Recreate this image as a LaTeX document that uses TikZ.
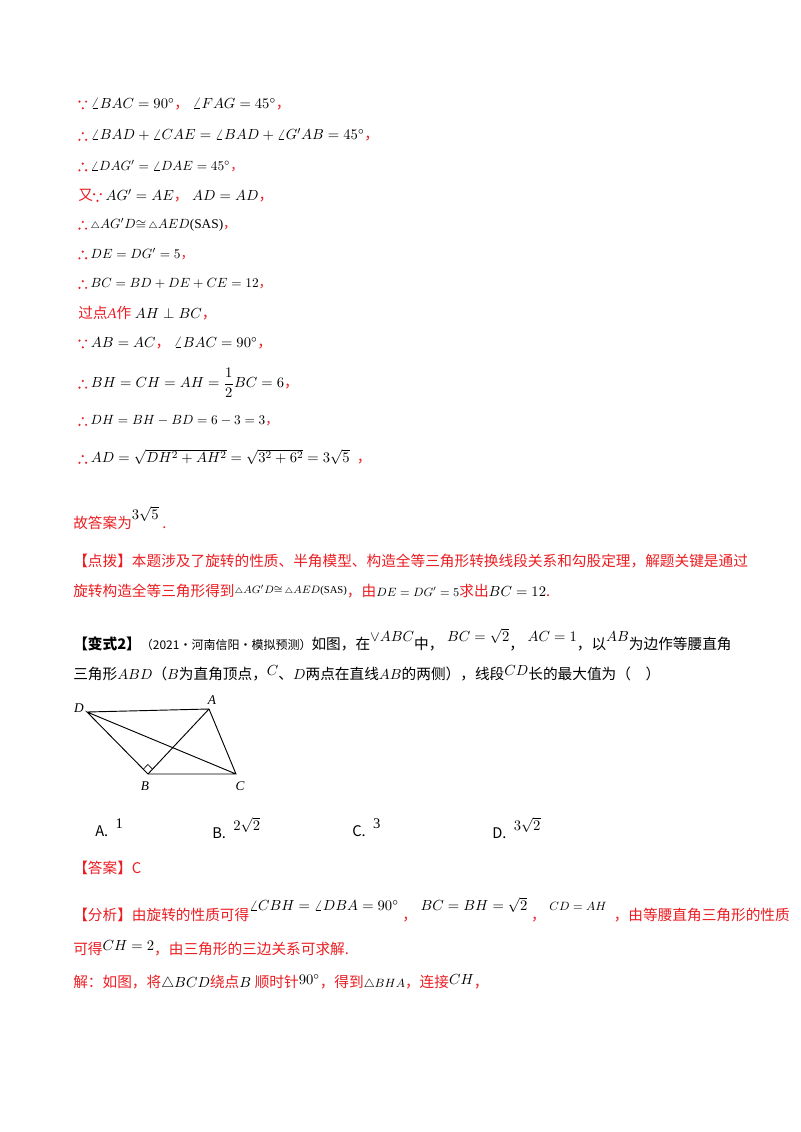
\documentclass[tikz,border=0pt]{standalone}
\usepackage{fontspec}
\usepackage{amsmath}
\usetikzlibrary{calc}
\setmainfont{Liberation Serif}
\newfontfamily\cjk{Noto Sans CJK SC}
\definecolor{rd}{RGB}{235,30,35}
\newcommand\R[1]{\textcolor{rd}{\cjk #1}}
\newcommand\K[1]{{\cjk #1}}
\newcommand\bec{\tikz[baseline=0pt,x=1pt,y=1pt]{\fill[rd] (0,5) circle(0.9) (5,5) circle(0.9) (2.5,0) circle(0.9);}}
\newcommand\tf{\tikz[baseline=0pt,x=1pt,y=1pt]{\fill[rd] (0,0) circle(0.9) (5,0) circle(0.9) (2.5,5) circle(0.9);}}
\newcommand\vtri{{\scriptstyle\triangle}}
\begin{document}
\begin{tikzpicture}[x=0.75pt,y=-0.75pt,
  t/.style={anchor=west,inner sep=0pt,font=\fontsize{11}{13}\selectfont},
  s/.style={anchor=west,inner sep=0pt,font=\fontsize{10}{12}\selectfont},
  lab/.style={inner sep=1pt,font=\fontsize{10}{12}\selectfont\itshape},
  seg/.style={line width=0.7pt}]
\useasboundingbox (0,0) rectangle (800,1132);
\fill[white] (0,0) rectangle (800,1132);
\node[t] (l1) at (78,104) {\bec\ $\angle BAC=90^\circ$\R{，}\ $\angle FAG=45^\circ$\R{，}};
\node[t] (l2) at (78,135) {\tf\ $\angle BAD+\angle CAE=\angle BAD+\angle G'AB=45^\circ$\R{，}};
\node[s] (l3) at (78,166) {\tf\ $\angle DAG'=\angle DAE=45^\circ$\R{，}};
\node[t] (l4) at (78,196) {\R{又}\bec\ $AG'=AE$\R{，}\ $AD=AD$\R{，}};
\node[s] (l5) at (78,225) {\tf\ $\vtri AG'D{\cong}\,\vtri AED$(SAS)\R{，}};
\node[s] (l6) at (78,254) {\tf\ $DE=DG'=5$\R{，}};
\node[s] (l7) at (78,284) {\tf\ $BC=BD+DE+CE=12$\R{，}};
\node[t] (l8) at (78,313) {\R{过点}\textcolor{rd}{\itshape A}\R{作} $AH\perp BC$\R{，}};
\node[t] (l9) at (78,343) {\bec\ $AB=AC$\R{，}\ $\angle BAC=90^\circ$\R{，}};
\node[t] (l10) at (78,383) {\tf\ $BH=CH=AH=\dfrac12BC=6$\R{，}};
\node[s] (l11) at (78,421) {\tf\ $DH=BH-BD=6-3=3$\R{，}};
\node[t] (l12) at (78,457) {\tf\ $AD=\sqrt{DH^2+AH^2}=\sqrt{3^2+6^2}=3\sqrt5$\ \ \R{，}};
\node[t] (l13) at (73,518) {\R{故答案为}\raisebox{1.2ex}{$3\sqrt5$}\ \R{.}};
\node[t] (l14) at (73,561) {\R{【点拨】本题涉及了旋转的性质、半角模型、构造全等三角形转换线段关系和勾股定理，解题关键是通过}};
\node[t] (l15) at (73,591) {\R{旋转构造全等三角形得到}\raisebox{.5ex}{\fontsize{8}{9}\selectfont$\vtri AG'D{\cong}\,\vtri AED$(SAS)}\R{，由}{\fontsize{9}{10}\selectfont$DE=DG'=5$}\R{求出}$BC=12$\R{.}};
\node[t] (l16) at (73,640) {\K{\bfseries【变式2】}{\cjk\fontsize{9}{10}\selectfont（2021·河南信阳·模拟预测）}\K{如图，在}\raisebox{1.2ex}{$\vee ABC$}\K{中，}\ \raisebox{1.2ex}{$BC=\sqrt2$}\K{，}\ \raisebox{1.2ex}{$AC=1$}\K{，以}\raisebox{1.2ex}{$AB$}\K{为边作等腰直角}};
\node[t] (l17) at (73,673) {\K{三角形}$ABD$\K{（}$B$\K{为直角顶点，}\raisebox{.6ex}{$C$}\K{、}$D$\K{两点在直线}$AB$\K{的两侧），线段}\raisebox{.6ex}{$CD$}\K{长的最大值为（\quad ）}};
% figure
\coordinate (D) at (87,712); \coordinate (A) at (209,709);
\coordinate (B) at (148,774); \coordinate (C) at (236,774);
\draw[seg] (D) -- (A) -- (C) -- (B) -- (D) -- (C);
\draw[seg] (B) -- (A);
\draw[line width=0.5pt] ($(B)!5pt!(D)$) -- ($(B)!5pt!(D)+(B)!5pt!(A)-(B)$) -- ($(B)!5pt!(A)$);
\node[lab] (lD) at (79,708) {D};
\node[lab] (lA) at (212,700) {A};
\node[lab] (lB) at (145,786) {B};
\node[lab] (lC) at (240,786) {C};
% options
\node[t] (oa) at (95,828) {\K{A.}\ \ \raisebox{1.2ex}{1}};
\node[t] (ob) at (212,828) {\K{B.}\ \ \raisebox{1.2ex}{$2\sqrt2$}};
\node[t] (oc) at (352,828) {\K{C.}\ \ \raisebox{1.2ex}{3}};
\node[t] (od) at (492,828) {\K{D.}\ \ \raisebox{1.2ex}{$3\sqrt2$}};
\node[t] (ans) at (73,868) {\R{【答案】C}};
\node[t] (an1) at (73,910) {\R{【分析】由旋转的性质可得}\raisebox{1.5ex}{$\angle CBH=\angle DBA=90^\circ$}\ \R{，}\ \raisebox{1.5ex}{$BC=BH=\sqrt2$}\ \R{，}\ \raisebox{1.5ex}{\fontsize{9}{10}\selectfont$CD=AH$}\ \ \R{，由等腰直角三角形的性质}};
\node[t] (an2) at (73,948) {\R{可得}\raisebox{.6ex}{$CH=2$}\R{，由三角形的三边关系可求解.}};
\node[t] (an3) at (73,982) {\R{解：如图，将}$\triangle BCD$\R{绕点}$B$\ \R{顺时针}\raisebox{.4ex}{$90^\circ$}\R{，得到}{\fontsize{9}{10}\selectfont$\triangle BHA$}\R{，连接}\raisebox{.4ex}{$CH$}\R{，}};
\end{tikzpicture}
\end{document}
